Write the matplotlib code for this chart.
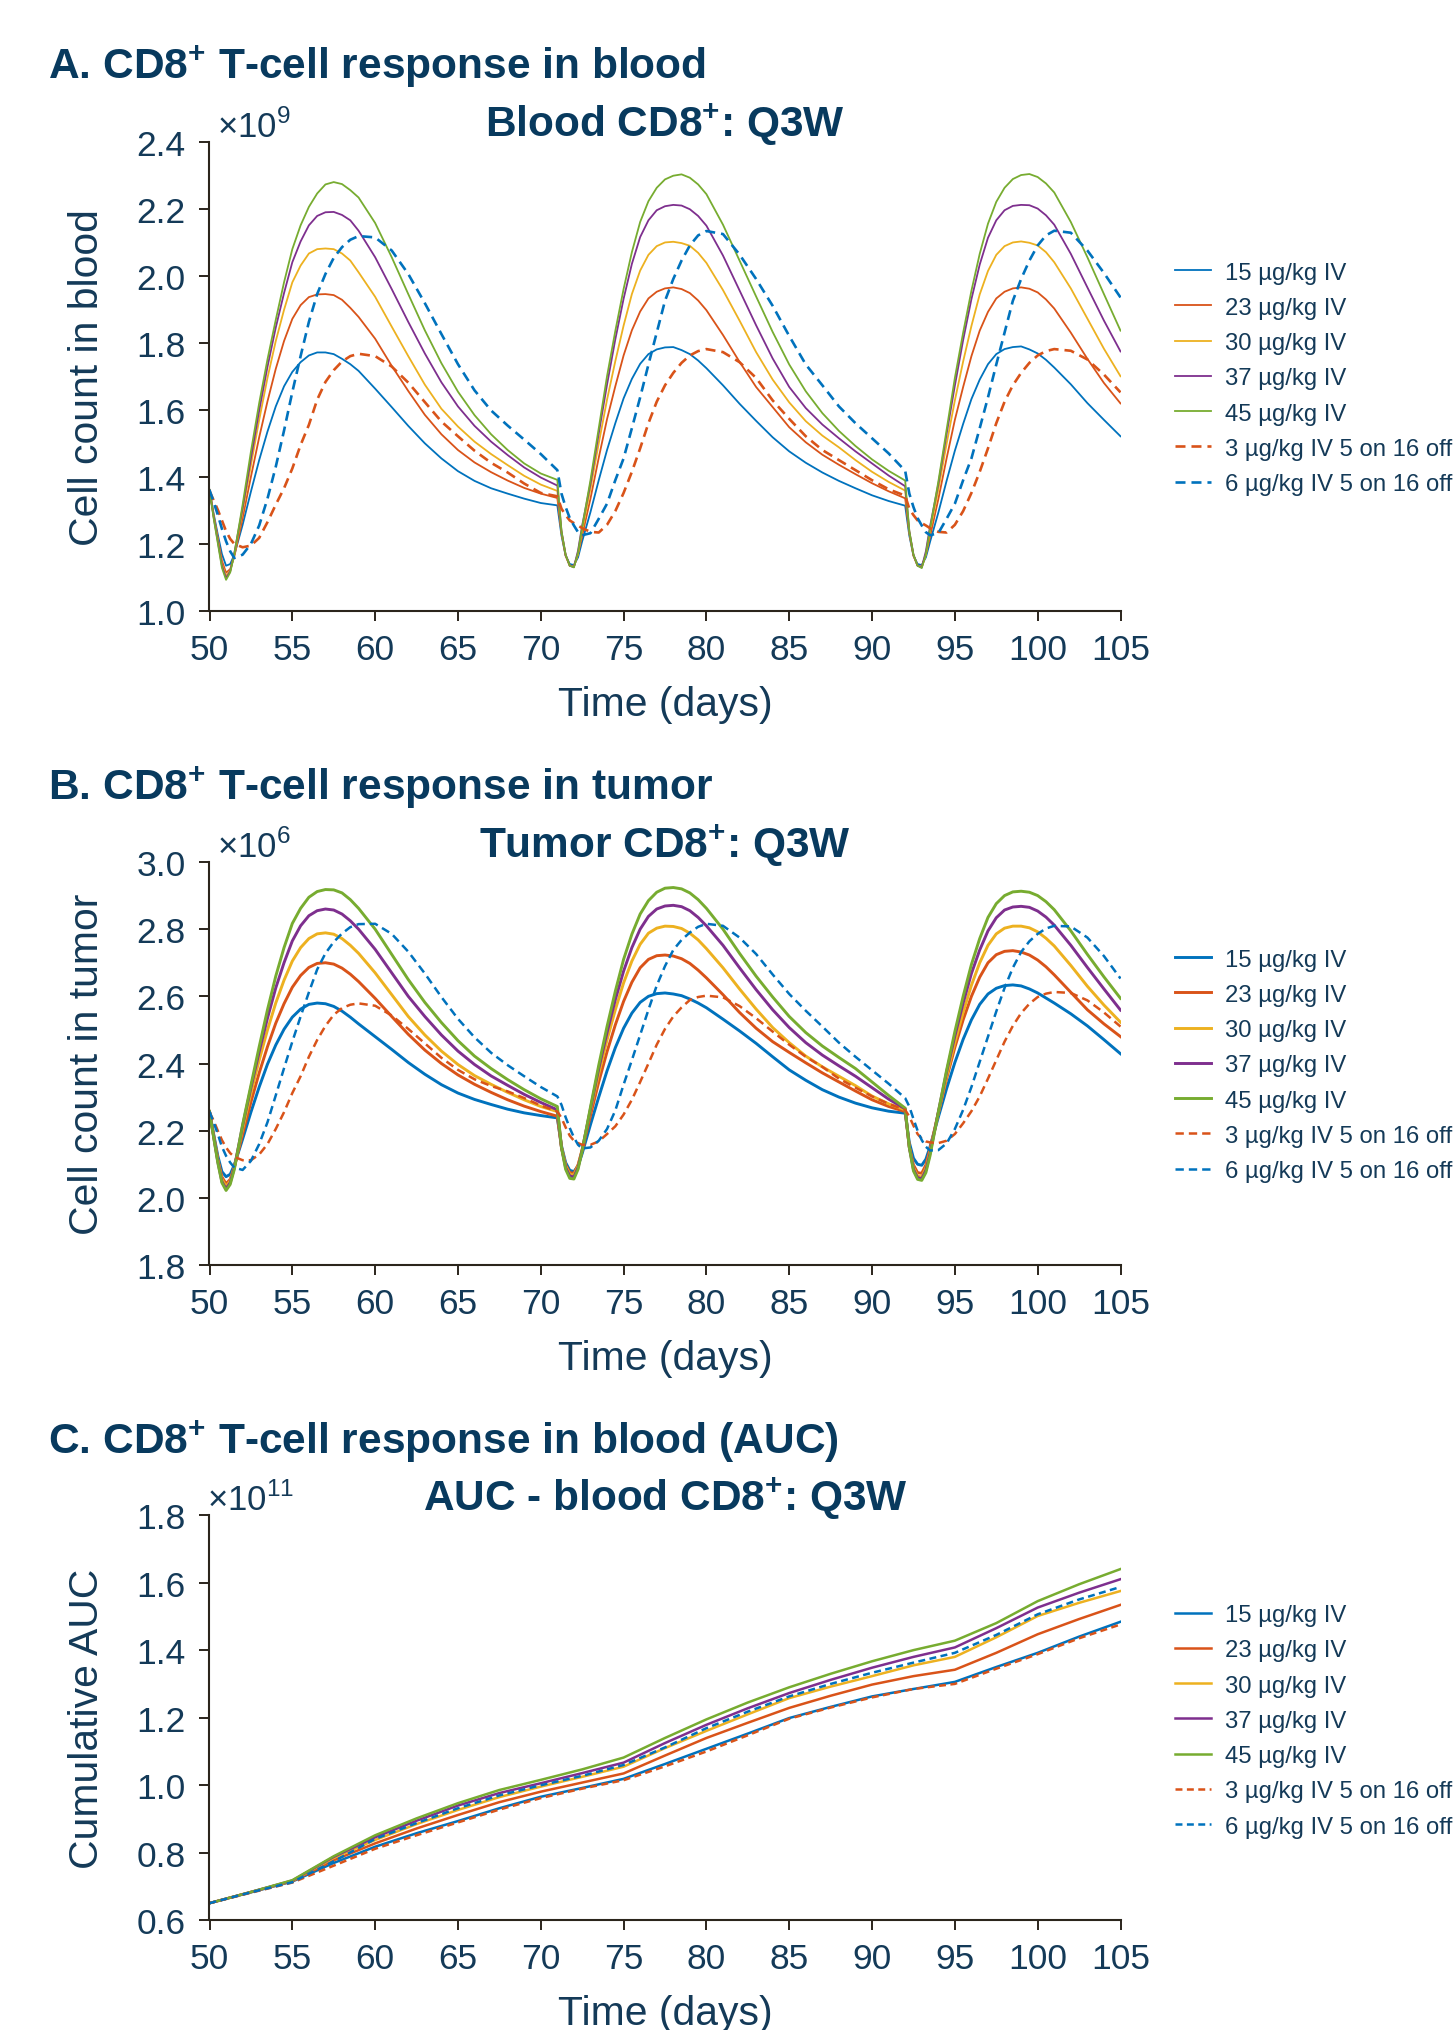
import matplotlib
matplotlib.use('Agg')
import matplotlib.pyplot as plt
from matplotlib import font_manager as fm

# ---------------- data ----------------
days_ab = [50, 50.25, 50.5, 50.75, 51, 51.25, 51.5, 52, 52.5, 53, 53.5, 54, 54.5, 55, 55.5, 56, 56.5, 57, 57.5, 58, 58.5, 59,
           60, 61, 62, 63, 64, 65, 66, 67, 68, 69, 70,
           71, 71.25, 71.5, 71.75, 72, 72.25, 72.5, 73, 73.5, 74, 74.5, 75, 75.5, 76, 76.5, 77, 77.5, 78, 78.5, 79, 79.5, 80,
           81, 82, 83, 84, 85, 86, 87, 88, 89, 90, 91,
           92, 92.25, 92.5, 92.75, 93, 93.25, 93.5, 94, 94.5, 95, 95.5, 96, 96.5, 97, 97.5, 98, 98.5, 99, 99.5, 100, 100.5, 101,
           102, 103, 104, 105]

labels = ['15 µg/kg IV', '23 µg/kg IV', '30 µg/kg IV', '37 µg/kg IV', '45 µg/kg IV',
          '3 µg/kg IV 5 on 16 off', '6 µg/kg IV 5 on 16 off']

# Panel A: blood CD8+ (x1e9)
blood_15 = [1.361, 1.290, 1.228, 1.170, 1.135, 1.140, 1.168, 1.257, 1.356, 1.450, 1.535, 1.610, 1.670, 1.713, 1.742, 1.762, 1.771, 1.771, 1.766, 1.752, 1.736, 1.716, 1.663, 1.608, 1.552, 1.500, 1.455, 1.417, 1.388, 1.366, 1.350, 1.335, 1.322] + \
           [1.315, 1.225, 1.165, 1.140, 1.137, 1.160, 1.208, 1.295, 1.390, 1.480, 1.560, 1.634, 1.692, 1.737, 1.766, 1.780, 1.786, 1.787, 1.778, 1.766, 1.747, 1.724, 1.673, 1.618, 1.567, 1.518, 1.476, 1.442, 1.413, 1.388, 1.366, 1.345, 1.328] + \
           [1.314, 1.225, 1.165, 1.140, 1.137, 1.160, 1.206, 1.293, 1.388, 1.478, 1.558, 1.632, 1.690, 1.736, 1.766, 1.781, 1.787, 1.789, 1.780, 1.768, 1.749, 1.726, 1.676, 1.620, 1.570, 1.521]
blood_23 = [1.361, 1.285, 1.218, 1.150, 1.114, 1.125, 1.163, 1.277, 1.400, 1.518, 1.625, 1.722, 1.805, 1.871, 1.912, 1.936, 1.944, 1.945, 1.942, 1.928, 1.904, 1.877, 1.812, 1.731, 1.656, 1.585, 1.527, 1.480, 1.443, 1.414, 1.389, 1.367, 1.350] + \
           [1.337, 1.232, 1.165, 1.135, 1.133, 1.170, 1.225, 1.335, 1.457, 1.572, 1.670, 1.762, 1.837, 1.893, 1.932, 1.952, 1.962, 1.965, 1.960, 1.948, 1.926, 1.897, 1.823, 1.743, 1.668, 1.608, 1.548, 1.503, 1.466, 1.436, 1.408, 1.381, 1.357] + \
           [1.336, 1.232, 1.165, 1.135, 1.132, 1.168, 1.222, 1.333, 1.455, 1.570, 1.668, 1.760, 1.836, 1.892, 1.932, 1.952, 1.962, 1.965, 1.961, 1.950, 1.929, 1.902, 1.830, 1.752, 1.680, 1.619]
blood_30 = [1.361, 1.283, 1.213, 1.140, 1.104, 1.120, 1.168, 1.297, 1.435, 1.570, 1.695, 1.805, 1.898, 1.980, 2.030, 2.066, 2.079, 2.081, 2.079, 2.066, 2.045, 2.010, 1.937, 1.848, 1.760, 1.675, 1.603, 1.550, 1.505, 1.468, 1.435, 1.403, 1.377] + \
           [1.358, 1.235, 1.166, 1.135, 1.132, 1.170, 1.240, 1.365, 1.500, 1.630, 1.745, 1.851, 1.945, 2.015, 2.062, 2.088, 2.099, 2.101, 2.097, 2.089, 2.068, 2.038, 1.957, 1.866, 1.772, 1.690, 1.622, 1.566, 1.523, 1.488, 1.450, 1.415, 1.385] + \
           [1.359, 1.235, 1.166, 1.135, 1.131, 1.168, 1.238, 1.362, 1.498, 1.628, 1.744, 1.850, 1.944, 2.014, 2.062, 2.088, 2.099, 2.102, 2.098, 2.090, 2.070, 2.040, 1.962, 1.872, 1.782, 1.700]
blood_37 = [1.361, 1.280, 1.208, 1.135, 1.098, 1.118, 1.173, 1.307, 1.455, 1.598, 1.728, 1.845, 1.948, 2.040, 2.102, 2.150, 2.178, 2.189, 2.190, 2.181, 2.165, 2.134, 2.055, 1.960, 1.862, 1.768, 1.682, 1.610, 1.552, 1.505, 1.465, 1.428, 1.398] + \
           [1.374, 1.238, 1.168, 1.135, 1.131, 1.180, 1.255, 1.380, 1.530, 1.675, 1.810, 1.931, 2.035, 2.115, 2.165, 2.195, 2.207, 2.211, 2.209, 2.198, 2.178, 2.149, 2.060, 1.956, 1.852, 1.753, 1.668, 1.605, 1.556, 1.515, 1.476, 1.440, 1.404] + \
           [1.372, 1.238, 1.168, 1.135, 1.130, 1.178, 1.252, 1.378, 1.528, 1.672, 1.808, 1.930, 2.033, 2.113, 2.165, 2.195, 2.208, 2.211, 2.210, 2.200, 2.180, 2.152, 2.065, 1.965, 1.866, 1.774]
blood_45 = [1.361, 1.277, 1.203, 1.129, 1.093, 1.115, 1.170, 1.317, 1.475, 1.620, 1.750, 1.868, 1.980, 2.079, 2.150, 2.205, 2.245, 2.272, 2.279, 2.273, 2.255, 2.233, 2.157, 2.055, 1.945, 1.837, 1.739, 1.654, 1.584, 1.527, 1.480, 1.440, 1.410] + \
           [1.391, 1.238, 1.168, 1.135, 1.130, 1.175, 1.250, 1.390, 1.545, 1.700, 1.835, 1.960, 2.070, 2.160, 2.222, 2.262, 2.287, 2.298, 2.302, 2.292, 2.272, 2.243, 2.152, 2.045, 1.938, 1.832, 1.735, 1.655, 1.590, 1.537, 1.492, 1.452, 1.418] + \
           [1.389, 1.238, 1.168, 1.135, 1.128, 1.170, 1.245, 1.385, 1.540, 1.695, 1.830, 1.955, 2.065, 2.155, 2.220, 2.262, 2.288, 2.300, 2.303, 2.294, 2.275, 2.248, 2.160, 2.055, 1.945, 1.836]
blood_3_5on = [1.358, 1.330, 1.302, 1.270, 1.238, 1.215, 1.200, 1.190, 1.195, 1.218, 1.265, 1.317, 1.366, 1.425, 1.495, 1.555, 1.630, 1.683, 1.718, 1.744, 1.760, 1.767, 1.760, 1.729, 1.681, 1.623, 1.565, 1.521, 1.478, 1.442, 1.413, 1.380, 1.352] + \
              [1.342, 1.305, 1.286, 1.270, 1.262, 1.255, 1.247, 1.236, 1.234, 1.257, 1.298, 1.352, 1.415, 1.485, 1.560, 1.624, 1.673, 1.710, 1.740, 1.762, 1.775, 1.781, 1.772, 1.742, 1.695, 1.628, 1.573, 1.521, 1.480, 1.450, 1.420, 1.390, 1.363] + \
              [1.344, 1.305, 1.286, 1.270, 1.262, 1.255, 1.247, 1.236, 1.234, 1.257, 1.298, 1.352, 1.415, 1.485, 1.560, 1.624, 1.673, 1.710, 1.740, 1.762, 1.775, 1.781, 1.776, 1.750, 1.705, 1.652]
blood_6_5on = [1.361, 1.325, 1.287, 1.245, 1.208, 1.178, 1.158, 1.168, 1.200, 1.255, 1.335, 1.430, 1.538, 1.653, 1.760, 1.862, 1.945, 2.005, 2.053, 2.085, 2.107, 2.118, 2.114, 2.075, 2.005, 1.918, 1.826, 1.736, 1.658, 1.598, 1.553, 1.511, 1.468] + \
              [1.420, 1.350, 1.310, 1.277, 1.255, 1.235, 1.226, 1.232, 1.275, 1.320, 1.390, 1.455, 1.545, 1.637, 1.735, 1.830, 1.925, 1.990, 2.045, 2.090, 2.120, 2.133, 2.124, 2.063, 1.990, 1.910, 1.820, 1.735, 1.673, 1.610, 1.560, 1.515, 1.470] + \
              [1.418, 1.350, 1.310, 1.277, 1.255, 1.235, 1.226, 1.232, 1.275, 1.320, 1.390, 1.455, 1.545, 1.637, 1.735, 1.830, 1.925, 1.990, 2.045, 2.090, 2.120, 2.134, 2.128, 2.075, 2.008, 1.935]

# Panel B: tumor CD8+ (x1e6)
tumor_15 = [2.257, 2.190, 2.125, 2.078, 2.063, 2.070, 2.098, 2.175, 2.255, 2.330, 2.398, 2.455, 2.502, 2.538, 2.562, 2.576, 2.580, 2.578, 2.570, 2.556, 2.538, 2.518, 2.480, 2.442, 2.403, 2.368, 2.337, 2.312, 2.293, 2.278, 2.264, 2.253, 2.245] + \
           [2.238, 2.155, 2.105, 2.082, 2.078, 2.095, 2.132, 2.218, 2.300, 2.378, 2.447, 2.505, 2.550, 2.582, 2.600, 2.608, 2.610, 2.607, 2.602, 2.592, 2.580, 2.566, 2.532, 2.497, 2.460, 2.420, 2.381, 2.350, 2.322, 2.300, 2.282, 2.268, 2.258] + \
           [2.252, 2.165, 2.118, 2.100, 2.097, 2.115, 2.152, 2.240, 2.325, 2.403, 2.472, 2.530, 2.576, 2.607, 2.624, 2.632, 2.634, 2.631, 2.622, 2.610, 2.595, 2.580, 2.548, 2.512, 2.471, 2.429]
tumor_23 = [2.257, 2.186, 2.116, 2.062, 2.042, 2.055, 2.092, 2.190, 2.285, 2.372, 2.450, 2.520, 2.578, 2.627, 2.662, 2.686, 2.698, 2.700, 2.696, 2.684, 2.666, 2.644, 2.594, 2.540, 2.487, 2.440, 2.400, 2.366, 2.338, 2.314, 2.292, 2.273, 2.257] + \
           [2.243, 2.150, 2.098, 2.075, 2.073, 2.098, 2.142, 2.245, 2.345, 2.435, 2.515, 2.585, 2.642, 2.685, 2.710, 2.721, 2.723, 2.720, 2.712, 2.698, 2.678, 2.655, 2.605, 2.552, 2.505, 2.465, 2.433, 2.402, 2.372, 2.345, 2.318, 2.292, 2.272] + \
           [2.257, 2.152, 2.098, 2.075, 2.073, 2.098, 2.145, 2.252, 2.355, 2.448, 2.530, 2.600, 2.657, 2.700, 2.724, 2.734, 2.736, 2.732, 2.723, 2.708, 2.688, 2.664, 2.612, 2.560, 2.518, 2.480]
tumor_30 = [2.257, 2.184, 2.112, 2.055, 2.034, 2.050, 2.092, 2.205, 2.312, 2.410, 2.500, 2.580, 2.648, 2.705, 2.745, 2.772, 2.786, 2.789, 2.785, 2.772, 2.752, 2.728, 2.670, 2.605, 2.540, 2.485, 2.437, 2.397, 2.364, 2.338, 2.314, 2.292, 2.272] + \
           [2.257, 2.152, 2.095, 2.070, 2.068, 2.095, 2.145, 2.260, 2.370, 2.470, 2.560, 2.640, 2.705, 2.755, 2.788, 2.803, 2.809, 2.808, 2.802, 2.788, 2.768, 2.742, 2.685, 2.622, 2.562, 2.507, 2.462, 2.422, 2.390, 2.362, 2.334, 2.303, 2.280] + \
           [2.262, 2.152, 2.090, 2.065, 2.062, 2.088, 2.138, 2.252, 2.362, 2.463, 2.553, 2.633, 2.700, 2.752, 2.786, 2.803, 2.809, 2.809, 2.804, 2.792, 2.773, 2.750, 2.692, 2.630, 2.574, 2.523]
tumor_37 = [2.257, 2.182, 2.108, 2.048, 2.027, 2.045, 2.090, 2.215, 2.328, 2.435, 2.535, 2.625, 2.700, 2.765, 2.810, 2.840, 2.855, 2.860, 2.857, 2.845, 2.825, 2.800, 2.740, 2.670, 2.600, 2.540, 2.485, 2.437, 2.397, 2.363, 2.335, 2.308, 2.284] + \
           [2.262, 2.150, 2.090, 2.065, 2.062, 2.090, 2.142, 2.265, 2.385, 2.492, 2.590, 2.675, 2.745, 2.800, 2.838, 2.860, 2.869, 2.871, 2.867, 2.855, 2.835, 2.810, 2.752, 2.685, 2.620, 2.560, 2.507, 2.462, 2.425, 2.393, 2.362, 2.328, 2.294] + \
           [2.265, 2.150, 2.085, 2.060, 2.057, 2.082, 2.132, 2.255, 2.375, 2.482, 2.580, 2.668, 2.738, 2.795, 2.834, 2.857, 2.866, 2.868, 2.865, 2.854, 2.836, 2.812, 2.752, 2.686, 2.622, 2.559]
tumor_45 = [2.257, 2.180, 2.105, 2.045, 2.022, 2.040, 2.085, 2.218, 2.335, 2.450, 2.560, 2.660, 2.745, 2.817, 2.862, 2.895, 2.912, 2.918, 2.917, 2.908, 2.888, 2.862, 2.800, 2.725, 2.650, 2.582, 2.522, 2.468, 2.422, 2.385, 2.352, 2.322, 2.295] + \
           [2.272, 2.150, 2.085, 2.058, 2.056, 2.085, 2.140, 2.270, 2.395, 2.510, 2.615, 2.710, 2.785, 2.845, 2.885, 2.910, 2.922, 2.924, 2.920, 2.908, 2.888, 2.862, 2.800, 2.728, 2.660, 2.598, 2.540, 2.492, 2.452, 2.418, 2.385, 2.345, 2.305] + \
           [2.267, 2.150, 2.080, 2.055, 2.052, 2.075, 2.125, 2.255, 2.380, 2.495, 2.600, 2.695, 2.772, 2.835, 2.876, 2.900, 2.911, 2.913, 2.910, 2.900, 2.882, 2.858, 2.795, 2.725, 2.658, 2.594]
tumor_3_5on = [2.255, 2.230, 2.200, 2.172, 2.150, 2.133, 2.122, 2.112, 2.112, 2.129, 2.160, 2.205, 2.255, 2.312, 2.362, 2.420, 2.470, 2.512, 2.545, 2.565, 2.575, 2.579, 2.572, 2.543, 2.503, 2.460, 2.417, 2.381, 2.353, 2.333, 2.317, 2.297, 2.275] + \
              [2.257, 2.238, 2.210, 2.185, 2.170, 2.163, 2.158, 2.158, 2.168, 2.190, 2.213, 2.248, 2.292, 2.345, 2.400, 2.456, 2.503, 2.540, 2.567, 2.589, 2.598, 2.602, 2.597, 2.571, 2.535, 2.495, 2.456, 2.420, 2.390, 2.355, 2.328, 2.302, 2.280] + \
              [2.262, 2.242, 2.215, 2.190, 2.176, 2.168, 2.165, 2.163, 2.170, 2.190, 2.222, 2.258, 2.302, 2.355, 2.410, 2.465, 2.512, 2.550, 2.578, 2.598, 2.608, 2.613, 2.610, 2.588, 2.552, 2.510]
tumor_6_5on = [2.257, 2.225, 2.190, 2.152, 2.125, 2.105, 2.090, 2.083, 2.110, 2.160, 2.225, 2.305, 2.386, 2.465, 2.540, 2.612, 2.680, 2.728, 2.762, 2.787, 2.806, 2.815, 2.816, 2.786, 2.733, 2.668, 2.598, 2.533, 2.478, 2.432, 2.395, 2.362, 2.330] + \
              [2.302, 2.277, 2.240, 2.208, 2.180, 2.158, 2.147, 2.150, 2.170, 2.205, 2.260, 2.337, 2.410, 2.485, 2.560, 2.632, 2.690, 2.738, 2.768, 2.790, 2.807, 2.816, 2.810, 2.775, 2.726, 2.665, 2.607, 2.557, 2.510, 2.462, 2.420, 2.380, 2.340] + \
              [2.297, 2.272, 2.235, 2.200, 2.172, 2.152, 2.141, 2.142, 2.162, 2.205, 2.262, 2.330, 2.405, 2.480, 2.555, 2.625, 2.685, 2.732, 2.764, 2.786, 2.802, 2.810, 2.808, 2.775, 2.720, 2.653]

# Panel C: cumulative AUC of blood CD8+ (x1e11)
days_c = [50, 52.5, 55, 57.5, 60, 62.5, 65, 67.5, 70, 72.5, 75, 77.5, 80, 82.5, 85, 87.5, 90, 92.5, 95, 97.5, 100, 102.5, 105]
auc_15 = [0.651, 0.683, 0.715, 0.770, 0.818, 0.858, 0.894, 0.932, 0.966, 0.992, 1.019, 1.063, 1.108, 1.153, 1.199, 1.232, 1.263, 1.285, 1.306, 1.350, 1.392, 1.440, 1.484]
auc_23 = [0.651, 0.684, 0.716, 0.778, 0.828, 0.872, 0.912, 0.950, 0.981, 1.008, 1.035, 1.088, 1.140, 1.185, 1.229, 1.265, 1.298, 1.323, 1.342, 1.392, 1.447, 1.492, 1.534]
auc_30 = [0.651, 0.684, 0.717, 0.785, 0.838, 0.885, 0.927, 0.965, 0.996, 1.025, 1.055, 1.110, 1.161, 1.210, 1.258, 1.292, 1.323, 1.355, 1.380, 1.438, 1.501, 1.540, 1.575]
auc_37 = [0.651, 0.684, 0.718, 0.788, 0.846, 0.895, 0.940, 0.977, 1.006, 1.036, 1.067, 1.125, 1.179, 1.228, 1.273, 1.312, 1.348, 1.380, 1.408, 1.465, 1.526, 1.570, 1.610]
auc_45 = [0.651, 0.684, 0.719, 0.790, 0.852, 0.902, 0.947, 0.986, 1.016, 1.047, 1.082, 1.140, 1.195, 1.245, 1.290, 1.330, 1.367, 1.400, 1.428, 1.480, 1.545, 1.595, 1.640]
auc_3_5on = [0.651, 0.682, 0.712, 0.762, 0.812, 0.852, 0.890, 0.928, 0.962, 0.990, 1.015, 1.056, 1.100, 1.148, 1.197, 1.230, 1.260, 1.285, 1.300, 1.345, 1.388, 1.435, 1.476]
auc_6_5on = [0.651, 0.683, 0.713, 0.775, 0.841, 0.888, 0.932, 0.970, 1.000, 1.028, 1.060, 1.112, 1.169, 1.218, 1.263, 1.300, 1.333, 1.363, 1.392, 1.445, 1.506, 1.550, 1.587]

x_ticks = [50, 55, 60, 65, 70, 75, 80, 85, 90, 95, 100, 105]

# ---------------- style ----------------
names = {f.name for f in fm.fontManager.ttflist}
if 'Liberation Sans Narrow' in names:
    FONT, NARROW = 'Liberation Sans Narrow', True
else:
    FONT, NARROW = 'Liberation Sans', False
FAM = [FONT, 'DejaVu Sans']
plt.rcParams['font.family'] = FAM
plt.rcParams['lines.scale_dashes'] = False

# sizes (pt) tuned to the widths measured on the reference
if NARROW:
    S_TICK, S_LAB, S_HEAD, S_TITLE, S_EXP, S_LEG = 28, 35, 36.5, 36.5, 27, 20.5
else:
    S_TICK, S_LAB, S_HEAD, S_TITLE, S_EXP, S_LEG = 25.5, 29.4, 30.6, 30.5, 25, 17.2

TEXT = '#143a58'
HEAD = '#083a5e'
SPINE = '#2b251c'
COLORS = ['#0072BD', '#D95319', '#EDB120', '#7E2F8E', '#77AC30', '#D95319', '#0072BD']
DASHED = [False, False, False, False, False, True, True]

W, H = 1455.0, 2031.0
fig = plt.figure(figsize=(W / 100, H / 100), dpi=100)


def add_axes(left, top, right, bottom):
    return fig.add_axes([left / W, 1 - bottom / H, (right - left) / W, (bottom - top) / H])


panels = [
    dict(box=(209.5, 142.5, 1120.5, 612.0), days=days_ab,
         data=[blood_15, blood_23, blood_30, blood_37, blood_45, blood_3_5on, blood_6_5on],
         ylim=(1.0, 2.4), yticks=[1.0, 1.2, 1.4, 1.6, 1.8, 2.0, 2.2, 2.4],
         ylabel='Cell count in blood', title='Blood CD8$^{\\mathregular{+}}$: Q3W',
         heading='A. CD8$^{\\mathregular{+}}$ T-cell response in blood', head_base=79.0,
         exp='9', exp_x=217.0, leg_first=274.5, lw=(1.3, 1.9), dash=(7.2, 4.3)),
    dict(box=(209.5, 863.0, 1120.5, 1266.0), days=days_ab,
         data=[tumor_15, tumor_23, tumor_30, tumor_37, tumor_45, tumor_3_5on, tumor_6_5on],
         ylim=(1.8, 3.0), yticks=[1.8, 2.0, 2.2, 2.4, 2.6, 2.8, 3.0],
         ylabel='Cell count in tumor', title='Tumor CD8$^{\\mathregular{+}}$: Q3W',
         heading='B. CD8$^{\\mathregular{+}}$ T-cell response in tumor', head_base=800.0,
         exp='6', exp_x=217.0, leg_first=961.5, lw=(2.1, 1.8), dash=(6.0, 3.6)),
    dict(box=(209.5, 1516.0, 1120.5, 1921.4), days=days_c,
         data=[auc_15, auc_23, auc_30, auc_37, auc_45, auc_3_5on, auc_6_5on],
         ylim=(0.6, 1.8), yticks=[0.6, 0.8, 1.0, 1.2, 1.4, 1.6, 1.8],
         ylabel='Cumulative AUC', title='AUC - blood CD8$^{\\mathregular{+}}$: Q3W',
         heading='C. CD8$^{\\mathregular{+}}$ T-cell response in blood (AUC)', head_base=1454.0,
         exp='11', exp_x=207.0, leg_first=1617.0, lw=(1.8, 1.8), dash=(5.0, 3.2)),
]

leg_px = S_LEG * 100 / 72.0

for p in panels:
    left, top, right, bottom = p['box']
    ax = add_axes(left, top, right, bottom)
    hpx = bottom - top
    wpx = right - left
    handles = []
    for vals, col, dsh, lab in zip(p['data'], COLORS, DASHED, labels):
        if dsh:
            ln, = ax.plot(p['days'], vals, color=col, lw=p['lw'][1],
                          linestyle=(0, p['dash']), dash_capstyle='butt', label=lab)
        else:
            ln, = ax.plot(p['days'], vals, color=col, lw=p['lw'][0],
                          solid_joinstyle='round', label=lab)
        handles.append(ln)

    ax.set_xlim(50, 105)
    ax.set_ylim(*p['ylim'])
    ax.set_xticks(x_ticks)
    ax.set_yticks(p['yticks'])
    ax.set_yticklabels(['%.1f' % v for v in p['yticks']])
    for s in ('top', 'right'):
        ax.spines[s].set_visible(False)
    for s in ('left', 'bottom'):
        ax.spines[s].set_linewidth(1.5)
        ax.spines[s].set_color(SPINE)
    ax.tick_params(axis='both', direction='out', length=7.2, width=1.4, color=SPINE,
                   labelsize=S_TICK, labelcolor=TEXT)
    ax.tick_params(axis='x', pad=8.5)
    ax.tick_params(axis='y', pad=10.0)
    for lbl in ax.get_xticklabels() + ax.get_yticklabels():
        lbl.set_family(FAM)

    # axis labels
    yl = ax.set_ylabel(p['ylabel'], fontsize=S_LAB, color=TEXT, family=FAM)
    yl.set_va('baseline')
    ax.yaxis.set_label_coords((97.8 - left) / wpx, 0.5)
    xl = ax.set_xlabel('Time (days)', fontsize=S_LAB, color=TEXT, family=FAM)
    xl.set_va('baseline')
    ax.xaxis.set_label_coords(0.5, -104.0 / hpx)

    # axes title
    ax.text(0.5, 1 + 5.0 / hpx, p['title'], transform=ax.transAxes, ha='center', va='baseline',
            fontsize=S_TITLE, fontweight='bold', color=HEAD, family=FAM)
    # exponent (offset) text
    ax.text((p['exp_x'] - left) / wpx, 1 + 5.0 / hpx, '×10$^{\\mathregular{%s}}$' % p['exp'],
            transform=ax.transAxes, ha='left', va='baseline', fontsize=S_EXP, color=TEXT, family=FAM)
    # section heading
    fig.text(48.0 / W, 1 - p['head_base'] / H, p['heading'], ha='left', va='baseline',
             fontsize=S_HEAD, fontweight='bold', color=HEAD, family=FAM)

    # legend
    leg_top = p['leg_first'] - leg_px / 2.0
    ax.legend(handles=handles, loc='upper left', bbox_to_anchor=(1175.0 / W, 1 - leg_top / H),
              bbox_transform=fig.transFigure, frameon=False, prop={'family': FAM, 'size': S_LEG},
              handlelength=1.5, handletextpad=0.6, labelspacing=0.555, borderpad=0.0,
              borderaxespad=0.0, labelcolor=TEXT)

fig.savefig('out.png', dpi=100)
